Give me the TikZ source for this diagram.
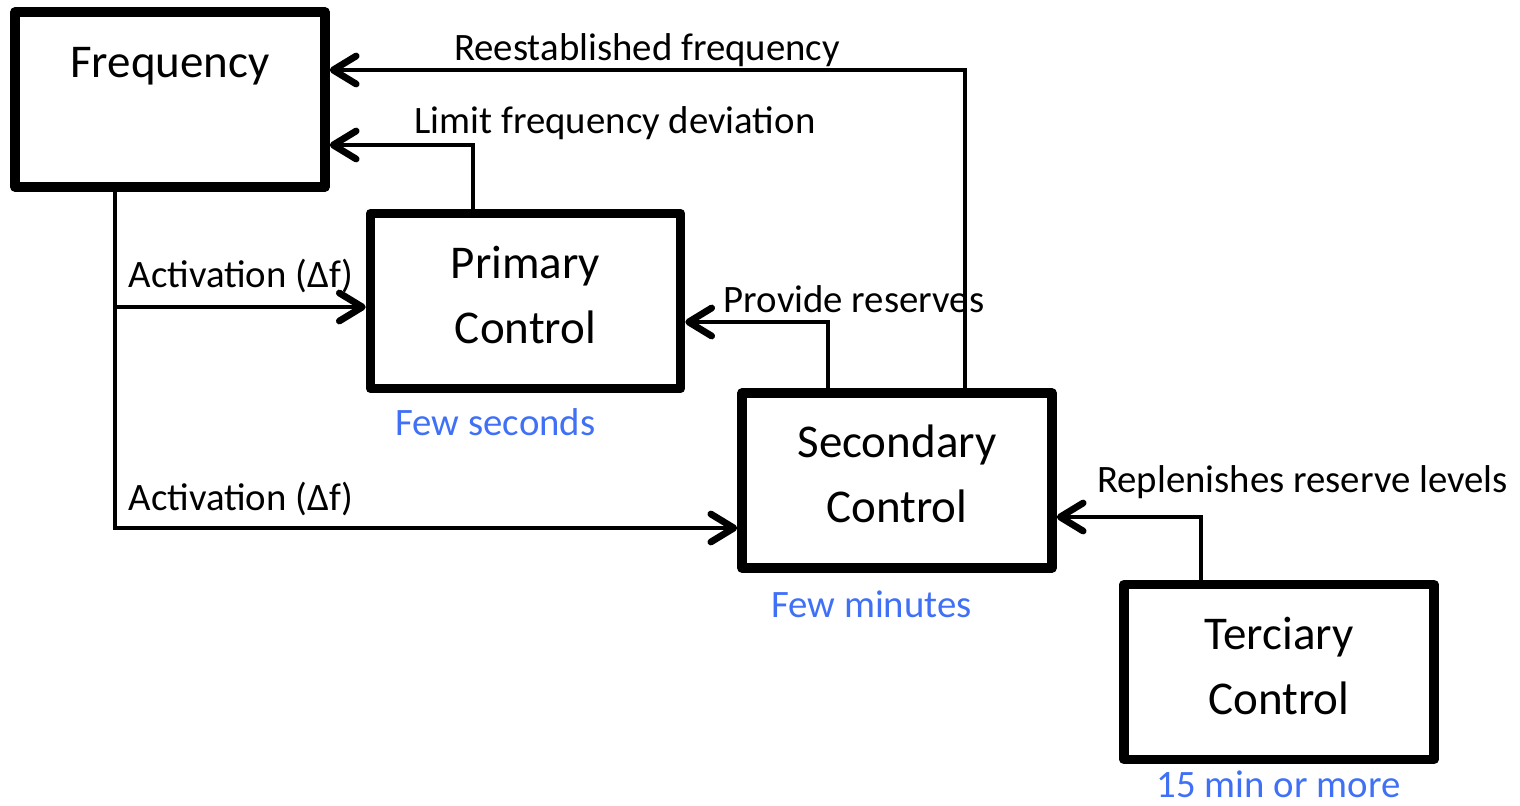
\documentclass[tikz,border=0pt]{standalone}
\usepackage{fontspec}
\setmainfont{Carlito}
\usetikzlibrary{arrows.meta}
\definecolor{tblue}{RGB}{64,112,245}
\begin{document}
\begin{tikzpicture}[x=0.5pt,y=-0.5pt,
 box/.style={draw, line width=4.75pt, line join=round, minimum width=155pt, minimum height=87.5pt, inner sep=0pt, align=center, font=\fontsize{23.5}{32.5}\selectfont, text depth=6.5pt},
 lbl/.style={inner sep=0pt, anchor=base, font=\fontsize{19.4}{23}\selectfont},
 tlbl/.style={lbl, text=tblue},
 conn/.style={line width=1.6pt, -{Straight Barb[length=11.5pt,width=14pt,line width=3.4pt,round]}}]
\useasboundingbox (0,0) rectangle (1520,805);

\node[box, text depth=37.5pt] (freq) at (170,99.5) {Frequency};
\node[box] (prim) at (525.5,301) {Primary\\Control};
\node[box] (sec) at (897,480.5) {Secondary\\Control};
\node[box] (ter) at (1279,672) {Terciary\\Control};

\coordinate (c1) at (965,70);
\coordinate (c2) at (473,145);
\coordinate (c3) at (115,307);
\coordinate (c4) at (115,528);
\coordinate (c5) at (828,322);
\coordinate (c6) at (1201,517);

\draw[conn] (sec.north -| c1) |- (freq.east |- c1);
\draw[conn] (prim.north -| c2) |- (freq.east |- c2);
\draw[conn] (freq.south -| c4) |- (sec.west |- c4);
\draw[conn] (c3) -- (prim.west |- c3);
\draw[conn] (sec.north -| c5) |- (prim.east |- c5);
\draw[conn] (ter.north -| c6) |- (sec.east |- c6);

\node[lbl] (l1) at (647,60) {Reestablished frequency};
\node[lbl] (l2) at (615,133) {Limit frequency deviation};
\node[lbl] (l3) at (241,287) {Activation (Δf)};
\node[lbl] (l4) at (241,510) {Activation (Δf)};
\node[lbl] (l5) at (854,312) {Provide reserves};
\node[lbl] (l6) at (1302.5,492) {Replenishes reserve levels};
\node[tlbl] (t1) at (495.5,435) {Few seconds};
\node[tlbl] (t2) at (871.5,617) {Few minutes};
\node[tlbl] (t3) at (1278.5,797) {15 min or more};
\end{tikzpicture}
\end{document}
